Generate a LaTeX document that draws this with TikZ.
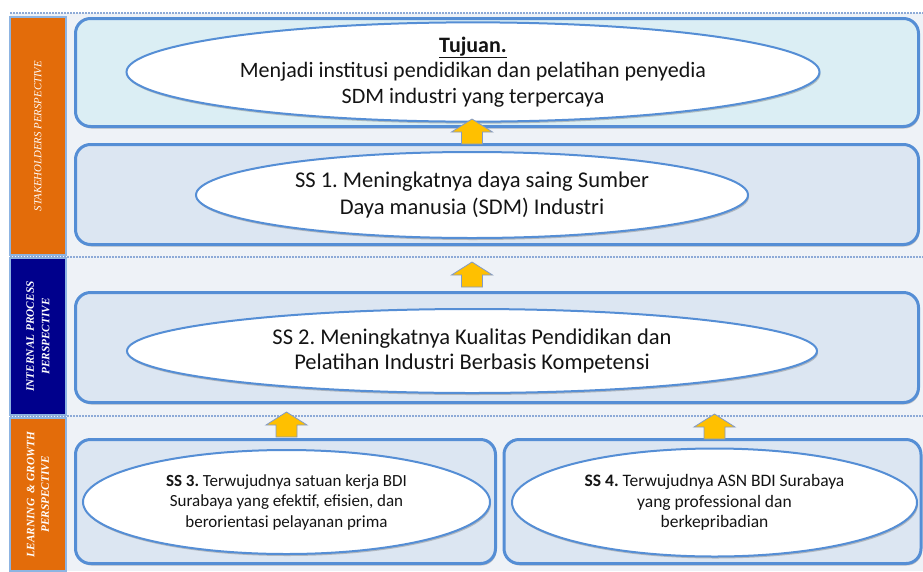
\documentclass[tikz,border=0pt]{standalone}
\usepackage{fontspec}
\setmainfont{Carlito}
\newfontfamily\labelfont{Liberation Serif}
\usetikzlibrary{shapes.geometric,shadows,calc}
\frenchspacing
\definecolor{bgc}{RGB}{238,242,247}
\definecolor{boxline}{RGB}{85,142,213}
\definecolor{topfill}{RGB}{219,238,244}
\definecolor{boxfill}{RGB}{220,230,242}
\definecolor{orangeC}{RGB}{227,108,10}
\definecolor{navyC}{RGB}{0,0,140}
\definecolor{goldC}{RGB}{255,192,0}
\definecolor{dotC}{RGB}{141,170,215}
\definecolor{barline}{RGB}{141,180,226}
\definecolor{arrline}{RGB}{130,155,200}
\definecolor{txtC}{RGB}{20,20,20}
\tikzset{
  leftbar/.style={draw=barline, line width=1.5pt, rotate=90, minimum height=56pt,
    inner sep=0pt, text=white, align=center},
  bigbox/.style={draw=boxline, line width=3pt, rounded corners=15pt, fill=boxfill,
    drop shadow={shadow xshift=1pt, shadow yshift=-2pt, opacity=0.3, fill=black!70}},
  goal/.style={ellipse, draw=boxline, line width=2pt, fill=white, align=center,
    inner sep=0pt, text=txtC,
    drop shadow={shadow xshift=1pt, shadow yshift=-2pt, opacity=0.3, fill=black!70}},
  dotline/.style={draw=dotC, line width=2.5pt, dash pattern=on 1.6pt off 1.4pt},
  arrsty/.style={fill=goldC, draw=arrline, line width=0.8pt, line join=miter},
  uparrow/.pic={\path[arrsty] (0,0) -- (20.5,13) -- (10.5,13) -- (10.5,25) -- (-10.5,25)
      -- (-10.5,13) -- (-20.5,13) -- cycle;}
}
\begin{document}
\begin{tikzpicture}[x=1pt,y=-1pt]
\useasboundingbox (0,0) rectangle (923,571);
\fill[bgc] (10,13) rectangle (923,571);

% left perspective bars
\node[leftbar, fill=orangeC, minimum width=238pt,
  font=\labelfont\itshape\fontsize{10.8}{12}\selectfont] (stk) at (38,136)
  {STAKEHOLDERS PERSPECTIVE};
\node[leftbar, fill=navyC, minimum width=157pt,
  font=\labelfont\itshape\bfseries\fontsize{11.3}{15.5}\selectfont] (ipp) at (38,336.5)
  {INTERNAL PROCESS\\PERSPECTIVE};
\node[leftbar, fill=orangeC, minimum width=153pt,
  font=\labelfont\itshape\bfseries\fontsize{11.3}{14.5}\selectfont] (lgp) at (38,494.5)
  {LEARNING~~\&~GROWTH\\PERSPECTIVE};

% dotted separators
\draw[dotline] (10,13) -- (923,13);
\draw[dotline] (10,257) -- (923,257);
\draw[dotline] (10,416) -- (923,416);

% boxes
\node[bigbox, fill=topfill, minimum width=843pt, minimum height=108pt] (tbox) at (497,72.5) {};
\node[bigbox, minimum width=843pt, minimum height=100pt] (s1box) at (497,194.5) {};
\node[bigbox, minimum width=843pt, minimum height=110pt] (s2box) at (497,347.5) {};
\node[bigbox, minimum width=420pt, minimum height=124pt] (s3box) at (285.5,501.5) {};
\node[bigbox, minimum width=417pt, minimum height=124pt] (s4box) at (712.5,501.5) {};

% goal ellipses
\node[goal, minimum width=693pt, minimum height=70pt,
  font=\fontsize{22}{25.5}\selectfont] (tuj) at (473,72)
  {\underline{\textbf{Tujuan.}}\\Menjadi institusi pendidikan dan pelatihan penyedia\\SDM industri yang terpercaya};
\node[goal, minimum width=552pt, minimum height=86pt,
  font=\fontsize{22.5}{26.5}\selectfont] (s1) at (472,195)
  {SS 1. Meningkatnya daya saing Sumber\\Daya manusia (SDM) Industri};
\node[goal, minimum width=690pt, minimum height=84pt,
  font=\fontsize{22.5}{25.5}\selectfont] (s2) at (472,351)
  {SS 2. Meningkatnya Kualitas Pendidikan dan\\Pelatihan Industri Berbasis Kompetensi};
\node[goal, minimum width=407pt, minimum height=104pt,
  font=\fontsize{17}{20.5}\selectfont] (s3) at (286.5,502)
  {\textbf{SS 3.} Terwujudnya satuan kerja BDI\\Surabaya yang efektif, efisien, dan\\berorientasi pelayanan prima};
\node[goal, minimum width=405pt, minimum height=108pt,
  font=\fontsize{17.5}{20.5}\selectfont] (s4) at (714.5,502.5)
  {\textbf{SS 4.} Terwujudnya ASN BDI Surabaya\\yang professional dan\\berkepribadian};

% block arrows between levels
\pic at ($(s1.north |- s1box.north)+(0,-24)$) {uparrow};
\pic at ($(s2.north |- s2box.north)+(0,-29)$) {uparrow};
\pic at ($(s3.north |- s3box.north)+(0,-26)$) {uparrow};
\pic at ($(s4.north |- s4box.north)+(0,-24)$) {uparrow};
\end{tikzpicture}
\end{document}
